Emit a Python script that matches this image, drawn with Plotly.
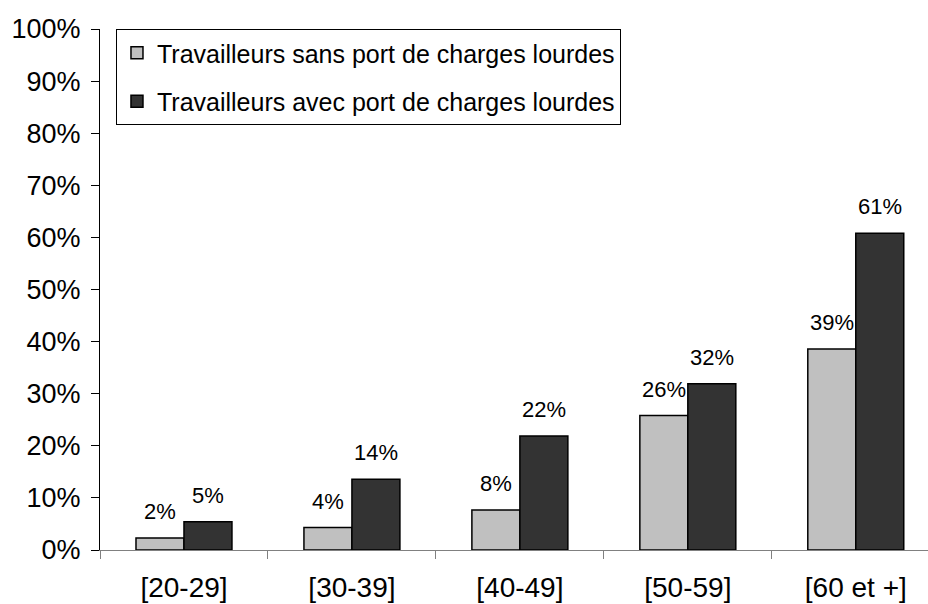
import plotly.graph_objects as go

# Age groups and share of workers (in %) for each group
categories = ["[20-29]", "[30-39]", "[40-49]", "[50-59]", "[60 et +]"]
sans_port = [2.3, 4.3, 7.7, 25.8, 38.6]
avec_port = [5.4, 13.6, 21.9, 31.9, 60.8]
series_names = [
    "Travailleurs sans port de charges lourdes",
    "Travailleurs avec port de charges lourdes",
]
series_colors = ["#C0C0C0", "#333333"]
y_ticks = list(range(0, 101, 10))
y_ticktext = [f"{t}%" for t in y_ticks]

FONT = "Liberation Sans, Arial, sans-serif"

fig = go.Figure()
for name, vals, color, grp in zip(series_names, [sans_port, avec_port], series_colors, ["a", "b"]):
    fig.add_trace(go.Bar(
        x=categories, y=vals, name=name, legendgroup=grp,
        marker=dict(color=color, line=dict(color="#000000", width=1.5)),
        hoverinfo="skip",
    ))

# Value labels above each bar
annotations = []
for vals, shift in [(sans_port, -24), (avec_port, 24)]:
    for cat, v in zip(categories, vals):
        annotations.append(dict(
            x=cat, y=v, xref="x", yref="y", text=f"{v:.0f}%",
            showarrow=False, xshift=shift, yshift=12, yanchor="bottom",
            font=dict(family=FONT, size=22, color="#000000"),
        ))

fig.update_layout(
    width=928, height=604,
    margin=dict(l=100, r=0, t=29, b=54),
    paper_bgcolor="white", plot_bgcolor="white",
    barmode="group", bargap=0.4286, bargroupgap=0,
    font=dict(family=FONT, color="#000000"),
    annotations=annotations,
    showlegend=True,
    legend=dict(
        x=0.0193, y=1.0, xanchor="left", yanchor="top",
        bordercolor="#000000", borderwidth=1, bgcolor="white",
        font=dict(family=FONT, size=25, color="#000000"),
        tracegroupgap=13, traceorder="grouped",
    ),
    xaxis=dict(
        type="category", range=[-0.5, 4.43],
        showline=True, linecolor="#808080", linewidth=1,
        ticks="outside", tickson="boundaries", ticklen=8, tickcolor="#808080",
        tickfont=dict(family=FONT, size=28, color="#000000"),
        ticklabelstandoff=12,
        showgrid=False, zeroline=False, fixedrange=True,
    ),
    yaxis=dict(
        range=[0, 100], tickvals=y_ticks, ticktext=y_ticktext,
        showline=True, linecolor="#000000", linewidth=1,
        ticks="outside", ticklen=8, tickcolor="#000000",
        tickfont=dict(family=FONT, size=27, color="#000000"),
        ticklabelstandoff=5,
        showgrid=False, zeroline=False, fixedrange=True,
    ),
)

fig.write_html("out.html")
